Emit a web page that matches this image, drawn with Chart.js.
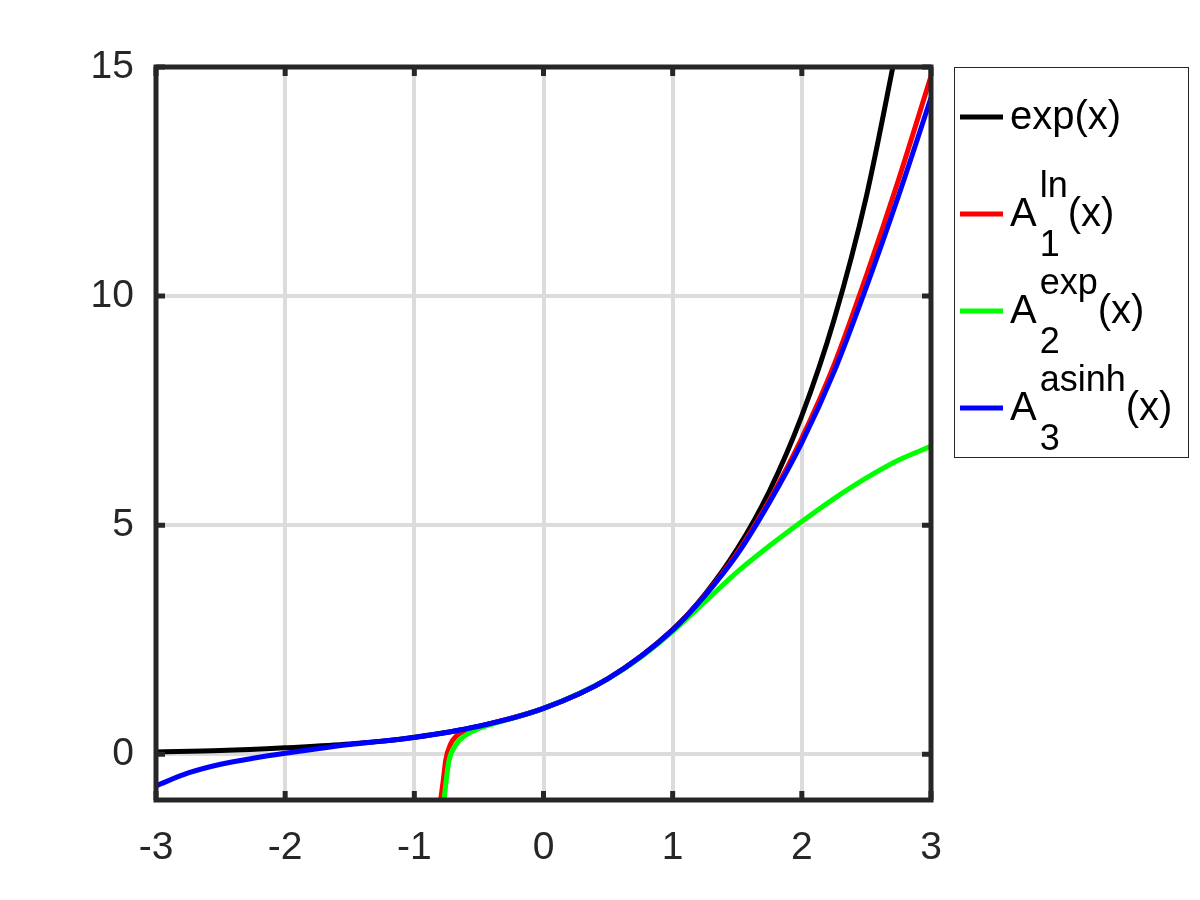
<!DOCTYPE html>
<html>
<head>
<meta charset="utf-8">
<title>exp(x) and approximations</title>
<script src="https://cdn.jsdelivr.net/npm/chart.js@4.4.1/dist/chart.umd.min.js"></script>
<style>
  html, body { margin: 0; padding: 0; background: #fff; }
  #plot { display: block; }
</style>
</head>
<body>
<canvas id="plot" width="1200" height="900"></canvas>
<script>
// ========================
// DATA
// ========================
const xTicks = [-3, -2, -1, 0, 1, 2, 3];
const yTicks = [0, 5, 10, 15];

// exp(x) - black
const expX = [-3, -2.5, -2, -1.5, -1, -0.5, 0, 0.5, 1, 1.25, 1.5, 1.75, 2, 2.25, 2.5, 2.75];
const expY = [0.05, 0.08, 0.14, 0.22, 0.37, 0.61, 1.0, 1.65, 2.72, 3.49, 4.48, 5.75, 7.39, 9.49, 12.18, 15.64];

// A_1^ln(x) - red
const lnX = [-0.796, -0.775, -0.757, -0.718, -0.68, -0.62, -0.5, 0, 0.5, 1, 1.25, 1.5, 1.75, 2, 2.25, 2.5, 2.75, 3];
const lnY = [-1.0, -0.55, -0.13, 0.23, 0.38, 0.5, 0.6, 1.0, 1.65, 2.71, 3.47, 4.4, 5.55, 6.9, 8.5, 10.45, 12.55, 14.8];

// A_2^exp(x) - green
const apxX = [-0.77, -0.75, -0.731, -0.68, -0.6, -0.5, -0.25, 0, 0.5, 0.75, 1, 1.25, 1.5, 1.75, 2, 2.25, 2.5, 2.75, 3];
const apxY = [-1.0, -0.5, -0.13, 0.2, 0.42, 0.56, 0.78, 1.0, 1.65, 2.11, 2.68, 3.33, 3.98, 4.55, 5.08, 5.58, 6.03, 6.42, 6.72];

// A_3^asinh(x) - blue
const asX = [-3, -2.75, -2.5, -2.25, -2, -1.75, -1.5, -1.25, -1, -0.5, 0, 0.5, 1, 1.25, 1.5, 1.75, 2, 2.25, 2.5, 2.75, 3];
const asY = [-0.69, -0.41, -0.22, -0.09, 0.02, 0.12, 0.21, 0.285, 0.365, 0.61, 1.0, 1.65, 2.71, 3.46, 4.36, 5.5, 6.8, 8.35, 10.2, 12.2, 14.33];

// legend pieces: base text, superscript, subscript, tail
const legendBase = ["exp(x)", "A", "A", "A"];
const legendSup = ["", "ln", "exp", "asinh"];
const legendSub = ["", "1", "2", "3"];
const legendTail = ["", "(x)", "(x)", "(x)"];
const seriesColors = ["#000000", "#ff0000", "#00ff00", "#0000ff"];

const FONT = "'Liberation Sans', Arial, Helvetica, sans-serif";
const AXIS_COLOR = "#262626";

function pts(xs, ys) {
  return xs.map((x, i) => ({ x, y: ys[i] }));
}

// ========================
// FRAME + INNER TICK MARKS
// ========================
const framePlugin = {
  id: "frame",
  afterDatasetsDraw(chart) {
    const { ctx, chartArea: a, scales } = chart;
    const len = 9;
    ctx.save();
    ctx.strokeStyle = AXIS_COLOR;
    ctx.lineWidth = 5;
    ctx.beginPath();
    xTicks.forEach(v => {
      const px = scales.x.getPixelForValue(v);
      ctx.moveTo(px, a.bottom); ctx.lineTo(px, a.bottom - len);
      ctx.moveTo(px, a.top); ctx.lineTo(px, a.top + len);
    });
    yTicks.forEach(v => {
      const py = scales.y.getPixelForValue(v);
      ctx.moveTo(a.left, py); ctx.lineTo(a.left + len, py);
      ctx.moveTo(a.right, py); ctx.lineTo(a.right - len, py);
    });
    ctx.stroke();
    ctx.lineJoin = "miter";
    ctx.strokeRect(a.left, a.top, a.right - a.left, a.bottom - a.top);
    ctx.restore();
  }
};

// ========================
// LEGEND WITH SUB/SUPERSCRIPTS
// ========================
const legendPlugin = {
  id: "mlegend",
  afterDraw(chart) {
    const ctx = chart.ctx;
    const box = { x: 954.5, y: 67.5, w: 234, h: 390 };
    const mainFont = "40px " + FONT;
    const scriptFont = "36px " + FONT;
    ctx.save();
    ctx.fillStyle = "#ffffff";
    ctx.fillRect(box.x, box.y, box.w, box.h);
    ctx.strokeStyle = AXIS_COLOR;
    ctx.lineWidth = 1;
    ctx.strokeRect(box.x, box.y, box.w, box.h);

    ctx.textBaseline = "alphabetic";
    ctx.textAlign = "left";
    legendBase.forEach((base, i) => {
      const ly = 117 + i * 97;
      ctx.strokeStyle = seriesColors[i];
      ctx.lineWidth = 5;
      ctx.beginPath();
      ctx.moveTo(960, ly);
      ctx.lineTo(1003, ly);
      ctx.stroke();

      const by = ly + 12;
      let tx = 1010;
      ctx.fillStyle = "#000000";
      ctx.font = mainFont;
      ctx.fillText(base, tx, by);
      tx += ctx.measureText(base).width + 3;
      if (legendSup[i] || legendSub[i]) {
        ctx.font = scriptFont;
        ctx.fillText(legendSup[i], tx, by - 29);
        ctx.fillText(legendSub[i], tx, by + 30);
        const w = Math.max(ctx.measureText(legendSup[i]).width, ctx.measureText(legendSub[i]).width);
        ctx.font = mainFont;
        ctx.fillText(legendTail[i], tx + w, by);
      }
    });
    ctx.restore();
  }
};

// ========================
// CHART
// ========================
const lineDefaults = {
  borderWidth: 5,
  pointRadius: 0,
  fill: false,
  cubicInterpolationMode: "monotone",
  clip: 0
};

new Chart(document.getElementById("plot"), {
  type: "line",
  data: {
    datasets: [
      { ...lineDefaults, label: "exp(x)", data: pts(expX, expY), borderColor: seriesColors[0], order: 4 },
      { ...lineDefaults, label: "A1 ln", data: pts(lnX, lnY), borderColor: seriesColors[1], order: 3 },
      { ...lineDefaults, label: "A2 exp", data: pts(apxX, apxY), borderColor: seriesColors[2], order: 2 },
      { ...lineDefaults, label: "A3 asinh", data: pts(asX, asY), borderColor: seriesColors[3], order: 1 }
    ]
  },
  options: {
    responsive: false,
    devicePixelRatio: 1,
    animation: false,
    layout: { padding: { left: 0, top: 67, right: 269, bottom: 0 } },
    plugins: {
      legend: { display: false },
      tooltip: { enabled: false }
    },
    scales: {
      x: {
        type: "linear",
        min: -3,
        max: 3,
        afterBuildTicks: s => { s.ticks = xTicks.map(v => ({ value: v })); },
        afterFit: s => { s.height = 100; },
        grid: { color: "#dcdcdc", lineWidth: 4, drawTicks: false },
        border: { display: false },
        ticks: {
          color: AXIS_COLOR,
          font: { family: FONT, size: 39 },
          padding: 25,
          maxRotation: 0
        }
      },
      y: {
        type: "linear",
        min: -1,
        max: 15,
        afterBuildTicks: s => { s.ticks = yTicks.map(v => ({ value: v })); },
        afterFit: s => { s.width = 156; },
        grid: { color: "#dcdcdc", lineWidth: 4, drawTicks: false },
        border: { display: false },
        ticks: {
          color: AXIS_COLOR,
          font: { family: FONT, size: 39 },
          padding: 22
        }
      }
    }
  },
  plugins: [framePlugin, legendPlugin]
});
</script>
</body>
</html>
